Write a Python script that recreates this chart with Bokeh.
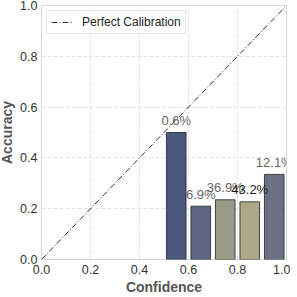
from bokeh.plotting import figure
from bokeh.models import ColumnDataSource, FixedTicker, NumeralTickFormatter, Range1d, Legend, LegendItem, LabelSet
from bokeh.core.properties import value
from bokeh.embed import file_html
from bokeh.resources import INLINE

# data
bin_centers = [0.55, 0.65, 0.75, 0.85, 0.95]
accuracy = [0.50, 0.21, 0.235, 0.227, 0.335]
pct_labels = ["0.6%", "6.9%", "36.9%", "43.2%", "12.1%"]
bar_colors = ["#4b597e", "#5e6483", "#9b9a86", "#aba887", "#6a7186"]
label_colors = ["#666666", "#666666", "#666666", "#222222", "#666666"]
diag_x = [0.0, 1.0]
diag_y = [0.0, 1.0]
ticks = [0.0, 0.2, 0.4, 0.6, 0.8, 1.0]
bar_width = 0.08
label_offset = 0.018

p = figure(width=294, height=297, output_backend="svg", toolbar_location=None,
           x_range=Range1d(0, 1), y_range=Range1d(0, 1),
           min_border_left=41, min_border_right=4, min_border_top=5, min_border_bottom=35)
p.margin = (0, 0, 0, -4)
p.background_fill_color = "white"
p.outline_line_color = "#d6d6d6"
p.outline_line_width = 1

for g in (p.xgrid, p.ygrid):
    g.grid_line_color = "#e3e3e3"
    g.grid_line_dash = "4 2"
    g.grid_line_width = 1

for ax in (p.xaxis, p.yaxis):
    ax.ticker = FixedTicker(ticks=ticks)
    ax.formatter = NumeralTickFormatter(format="0.0")
    ax.axis_line_color = None
    ax.major_tick_line_color = None
    ax.minor_tick_line_color = None
    ax.major_tick_out = 0
    ax.major_tick_in = 0
    ax.major_label_text_font = "Liberation Sans"
    ax.major_label_text_font_size = "12.5px"
    ax.major_label_text_color = "#333333"
    ax.axis_label_text_font = "Liberation Sans"
    ax.axis_label_text_font_size = "14px"
    ax.axis_label_text_font_style = "bold"
    ax.axis_label_text_color = "#555555"
    ax.major_label_standoff = 4
    ax.axis_label_standoff = 2

p.xaxis.major_label_standoff = 5
p.xaxis.axis_label_standoff = 2
p.xaxis.axis_label = "Confidence"
p.yaxis.axis_label = "Accuracy"

line = p.line(diag_x, diag_y, line_color="#333333", line_width=1, line_dash="6 2 1 2")

src = ColumnDataSource(dict(x=bin_centers, top=accuracy, color=bar_colors,
                            lab=pct_labels, ly=[a + label_offset for a in accuracy],
                            lc=label_colors))
p.vbar(x="x", top="top", width=bar_width, fill_color="color", fill_alpha=1.0,
       line_color="#222222", line_width=0.8, source=src)
labels = LabelSet(x="x", y="ly", text="lab", text_align="center", text_baseline="bottom",
                  text_font_size=value("13px"), text_color="lc",
                  text_font=value("Liberation Sans"), source=src)
p.add_layout(labels)

legend = Legend(items=[LegendItem(label="Perfect Calibration", renderers=[line])],
                location="top_left")
legend.label_text_font = "Liberation Sans"
legend.label_text_font_size = "12px"
legend.label_text_color = "#222222"
legend.border_line_color = "#cccccc"
legend.glyph_width = 22
legend.padding = 4
legend.margin = 5
legend.label_standoff = 9
legend.label_height = 12
legend.glyph_height = 12
p.add_layout(legend)

open("out.html", "w").write(file_html(p, INLINE))
